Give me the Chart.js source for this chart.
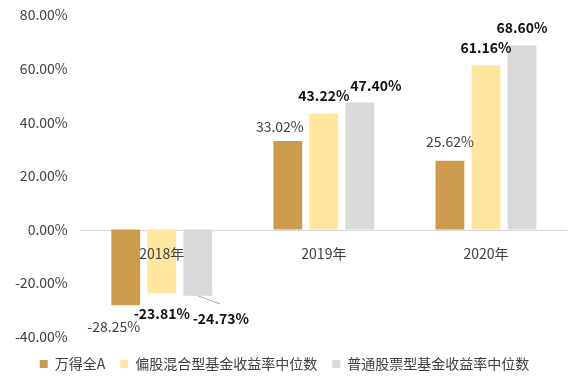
<!DOCTYPE html>
<html>
<head>
<meta charset="utf-8">
<script src="https://cdn.jsdelivr.net/npm/chart.js@4"></script>
<style>
  html, body { margin:0; padding:0; background:#fff; }
  #wrap { width:581px; height:387px; }
</style>
</head>
<body>
<div id="wrap"><canvas id="c" width="581" height="387"></canvas></div>
<script>
'use strict';
const years = ['2018年', '2019年', '2020年'];
const seriesNames = ['万得全A', '偏股混合型基金收益率中位数', '普通股票型基金收益率中位数'];
const wind = [-28.25, 33.02, 25.62];
const mixed = [-23.81, 43.22, 61.16];
const stock = [-24.73, 47.40, 68.60];
const yTicks = [80, 60, 40, 20, 0, -20, -40];

const colors = ['#CC9C4C', '#FFE69F', '#D9D9D9'];
const FONT = '"Noto Sans CJK SC", "Noto Sans", sans-serif';

// per-label nudges [dx, dy] relative to bar end, bold flag per series
const labelNudge = [
  [[-12, 21], [-8, -14], [0, -19]],
  [[0, 20], [0, -18], [0, -18]],
  [[23, 23], [16, -17], [0, -18]],
];
const labelBold = [false, true, true];

// zero line + year labels sitting on it (x axis itself is hidden)
const zeroAxis = {
  id: 'zeroAxis',
  beforeDatasetsDraw(chart) {
    const {ctx, chartArea: a, scales: {y}} = chart;
    const y0 = Math.round(y.getPixelForValue(0)) + 0.5;
    ctx.save();
    ctx.strokeStyle = '#D9D9D9';
    ctx.lineWidth = 1;
    ctx.beginPath();
    ctx.moveTo(a.left, y0);
    ctx.lineTo(a.right, y0);
    ctx.stroke();
    ctx.restore();
  },
  afterDatasetsDraw(chart) {
    const {ctx, scales: {x, y}} = chart;
    const y0 = y.getPixelForValue(0);
    ctx.save();
    ctx.font = '14px ' + FONT;
    ctx.fillStyle = '#404040';
    ctx.textAlign = 'center';
    ctx.textBaseline = 'middle';
    years.forEach((lab, i) => ctx.fillText(lab, x.getPixelForTick(i), y0 + 24));
    ctx.restore();
  }
};

const valueLabels = {
  id: 'valueLabels',
  afterDatasetsDraw(chart) {
    const ctx = chart.ctx;
    ctx.save();
    ctx.textAlign = 'center';
    ctx.textBaseline = 'middle';
    chart.data.datasets.forEach((ds, i) => {
      const meta = chart.getDatasetMeta(i);
      ctx.font = (labelBold[i] ? 'bold ' : '') + '14px ' + FONT;
      ctx.fillStyle = labelBold[i] ? '#111' : '#404040';
      meta.data.forEach((bar, j) => {
        const [dx, dy] = labelNudge[i][j];
        const v = ds.data[j];
        if (i === 2 && v < 0) {
          // leader line for the crowded negative label
          ctx.strokeStyle = '#A6A6A6';
          ctx.lineWidth = 1;
          ctx.beginPath();
          ctx.moveTo(bar.x, bar.y);
          ctx.lineTo(bar.x + 22, bar.y + 8);
          ctx.stroke();
        }
        ctx.fillText(v.toFixed(2) + '%', bar.x + dx, bar.y + dy);
      });
    });
    ctx.restore();
  }
};

new Chart(document.getElementById('c'), {
  type: 'bar',
  data: {
    labels: years,
    datasets: [wind, mixed, stock].map((d, i) => ({
      label: seriesNames[i], data: d, backgroundColor: colors[i],
      categoryPercentage: 0.667, barPercentage: 0.8,
    })),
  },
  options: {
    responsive: false, animation: false,
    layout: { padding: { left: 2, right: 14, top: 15, bottom: 6 } },
    plugins: {
      legend: {
        position: 'bottom',
        title: { display: true, text: '', font: { size: 1 }, padding: { top: 0, bottom: 4 } },
        labels: { boxWidth: 8, boxHeight: 8, padding: 15, color: '#404040',
                  font: { size: 14, family: FONT } },
      },
      tooltip: { enabled: false },
    },
    scales: {
      x: { display: false },
      y: {
        min: -40, max: 80,
        afterBuildTicks: s => { s.ticks = yTicks.map(v => ({ value: v })); },
        afterFit: s => { s.paddingTop = 0; s.paddingBottom = 0; },
        grid: { display: false, drawTicks: false },
        border: { display: false },
        ticks: { color: '#404040', padding: 13, font: { size: 14, family: FONT },
                 callback: v => v.toFixed(2) + '%' },
      },
    },
  },
  plugins: [zeroAxis, valueLabels],
});
</script>
</body>
</html>
